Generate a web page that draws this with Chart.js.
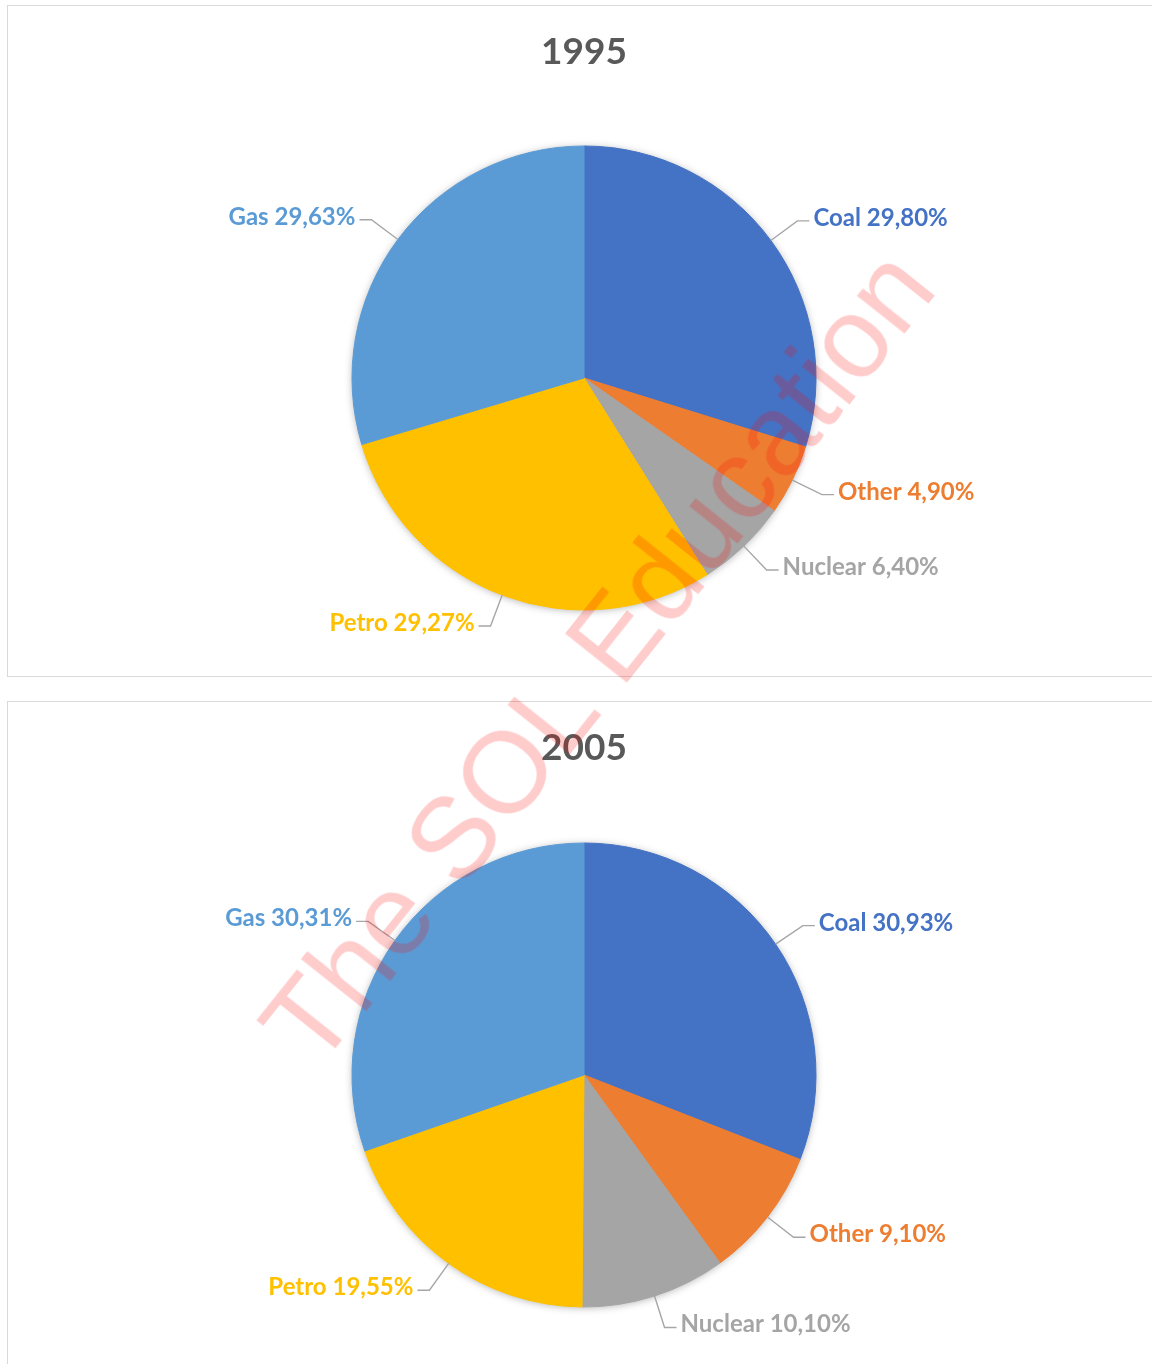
<!DOCTYPE html>
<html>
<head>
<meta charset="utf-8">
<script src="https://cdn.jsdelivr.net/npm/chart.js@4.4.1/dist/chart.umd.min.js"></script>
<style>
  body { margin: 0; background: #fff; width: 1152px; height: 1364px; overflow: hidden; position: relative; }
  .box { position: absolute; left: 7px; width: 1170px; border: 1px solid #d9d9d9; box-sizing: border-box; }
  #box1 { top: 5px; height: 672px; }
  #box2 { top: 701px; height: 720px; }
  canvas { position: absolute; left: 8px; }
  #c1 { top: 6px; }
  #c2 { top: 702px; }
  #mark {
    position: absolute; left: 597px; top: 656px;
    transform: translate(-50%, -50%) rotate(-51.5deg);
    font: 115px "Liberation Sans", Arial, sans-serif;
    color: rgba(255, 0, 0, 0.2);
    white-space: nowrap; pointer-events: none;
  }
</style>
</head>
<body>
<div class="box" id="box1"></div>
<div class="box" id="box2"></div>
<canvas id="c1" width="1152" height="680"></canvas>
<canvas id="c2" width="1152" height="680"></canvas>
<div id="mark">The SOL Education</div>
<script>
// data
var categories = ['Coal', 'Other', 'Nuclear', 'Petro', 'Gas'];
var values1995 = [29.80, 4.90, 6.40, 29.27, 29.63];
var values2005 = [30.93, 9.10, 10.10, 19.55, 30.31];

var sliceColors = ['#4472C4', '#ED7D31', '#A5A5A5', '#FFC000', '#5B9BD5'];

function pct(v) {
  return v.toFixed(2).replace('.', ',') + '%';
}

// soft shadow under the pie + labels with leader lines
var pieDecor = {
  id: 'pieDecor',
  beforeDatasetsDraw: function(chart) {
    var arc = chart.getDatasetMeta(0).data[0];
    var ctx = chart.ctx;
    ctx.save();
    ctx.shadowColor = 'rgba(0,0,0,0.35)';
    ctx.shadowBlur = 9;
    ctx.shadowOffsetX = 0;
    ctx.shadowOffsetY = 1;
    ctx.fillStyle = '#fff';
    ctx.beginPath();
    ctx.arc(arc.x, arc.y, arc.outerRadius - 1, 0, Math.PI * 2);
    ctx.fill();
    ctx.restore();
  },
  afterDatasetsDraw: function(chart) {
    var ctx = chart.ctx;
    var meta = chart.getDatasetMeta(0);
    var vals = chart.data.datasets[0].data;
    ctx.save();
    ctx.font = 'bold 24px Lato';
    meta.data.forEach(function(arc, i) {
      var a = (arc.startAngle + arc.endAngle) / 2;
      var r = arc.outerRadius;
      var cos = Math.cos(a), sin = Math.sin(a);
      var px = arc.x + r * cos, py = arc.y + r * sin;
      var ex = arc.x + (r + 33) * cos, ey = arc.y + (r + 33) * sin;
      var dir = cos >= 0 ? 1 : -1;
      var tx = ex + dir * 12;
      ctx.strokeStyle = '#a6a6a6';
      ctx.lineWidth = 1.4;
      ctx.beginPath();
      ctx.moveTo(px, py);
      ctx.lineTo(ex, ey);
      ctx.lineTo(tx, ey);
      ctx.stroke();
      ctx.fillStyle = sliceColors[i];
      ctx.textAlign = dir > 0 ? 'left' : 'right';
      ctx.textBaseline = 'alphabetic';
      ctx.fillText(chart.data.labels[i] + ' ' + pct(vals[i]), tx + dir * 4, ey + 5);
    });
    ctx.restore();
  }
};

function makePie(id, year, values, bottomPad) {
  return new Chart(document.getElementById(id), {
    type: 'pie',
    data: {
      labels: categories,
      datasets: [{
        data: values,
        backgroundColor: sliceColors,
        borderColor: sliceColors,
        borderWidth: 1,
        radius: 232,
        hoverOffset: 0
      }]
    },
    options: {
      responsive: false,
      animation: false,
      events: [],
      layout: { padding: { top: 0, bottom: bottomPad } },
      plugins: {
        legend: { display: false },
        tooltip: { enabled: false },
        title: {
          display: true,
          text: year,
          color: '#595959',
          font: { family: 'Lato', size: 37, weight: 'bold' },
          padding: { top: 24, bottom: 8 }
        }
      }
    },
    plugins: [pieDecor]
  });
}

makePie('c1', '1995', values1995, 12.4);
makePie('c2', '2005', values2005, 10.4);
</script>
</body>
</html>
